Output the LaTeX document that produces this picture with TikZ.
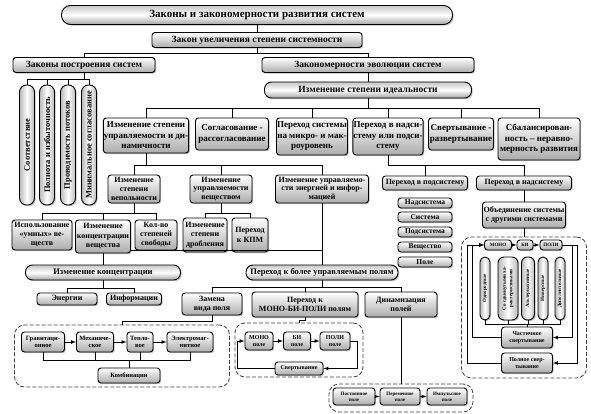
\documentclass[tikz,border=0pt]{standalone}
\usepackage{fontspec}
\setmainfont{Liberation Serif}
\usepackage{graphicx}
\usetikzlibrary{arrows,shadows}

\tikzset{
  box/.style={draw, line width=0.9pt, rounded corners=3pt, top color=white, bottom color=gray!65,
    drop shadow={shadow xshift=1.2pt, shadow yshift=-1.2pt, opacity=0.5},
    align=center, inner sep=0.5pt},
  pill/.style={box, rounded corners=#1, top color=gray!45, bottom color=gray!70, middle color=white},
  pill/.default=7pt,
  tube/.style={box, rounded corners=#1, left color=gray!55, right color=gray!55, middle color=white},
  tube/.default=5pt,
  zone/.style={draw=black!75, line width=0.8pt, rounded corners=10pt, dash pattern=on 4pt off 2pt},
  wh/.style 2 args={minimum width=#1pt, minimum height=#2pt},
  fs/.style 2 args={font=\fontsize{#1}{#2}\selectfont\bfseries},
  link/.style={line width=0.7pt},
}

\begin{document}
\begin{tikzpicture}[x=1pt, y=-1pt, >=latex]
    \useasboundingbox (0,0) rectangle (591,414);
    % Dashed zones
    \node[zone, wh={215}{62}] (zone1) at (122,356) {};
    \node[zone, wh={128}{54}] (zone2) at (299,350) {};
    \node[zone, wh={144}{28}] (zone3) at (401,398) {};
    \node[zone, wh={125}{141}] (zone4) at (524,307.5) {};
    % Upper levels
    \node[pill=9pt, wh={391}{19}, fs={11}{13}] (title) at (257,15) {Законы и закономерности развития систем};
    \node[box, wh={210}{15}, fs={9.5}{11}] (incr) at (257,40) {Закон увеличения степени системности};
    \node[box, wh={142}{15}, fs={9.5}{11}] (constr) at (84,65) {Законы построения систем};
    \node[box, wh={212}{15}, fs={9.5}{11}] (evol) at (368,65) {Закономерности эволюции систем};
    \node[pill, wh={207}{16}, fs={9.5}{11}] (ideal) at (368,90) {Изменение степени идеальности};
    % Laws of construction
    \node[tube=7pt, wh={15}{120}, fs={8.5}{9}] (law1) at (27,145) {\rotatebox{90}{Соответствие}};
    \node[tube=7pt, wh={15}{120}, fs={8.5}{9}] (law2) at (47,145) {\rotatebox{90}{Полнота и избыточность}};
    \node[tube=7pt, wh={15}{120}, fs={8.5}{9}] (law3) at (68,145) {\rotatebox{90}{Проводимость потоков}};
    \node[tube=7pt, wh={15}{120}, fs={8.5}{9}] (law4) at (89,145) {\rotatebox{90}{Минимальное согласование}};
    % Ideality branches
    \node[box, wh={85}{35}, fs={9}{10.5}] (ctrl) at (146,135.5) {Изменение степени\\управляемости и ди-\\намичности};
    \node[box, wh={73}{32}, fs={9}{10.5}] (coord) at (232,134) {Согласование -\\рассогласование};
    \node[box, wh={71}{37}, fs={9}{10.5}] (micro) at (312,136.5) {Переход системы\\на микро- и мак-\\роуровень};
    \node[box, wh={70}{37}, fs={9}{10.5}] (super) at (388,136.5) {Переход в надси-\\стему или подси-\\стему};
    \node[box, wh={65}{32}, fs={9}{10.5}] (fold) at (461,134) {Свертывание -\\развертывание};
    \node[box, wh={82}{42}, fs={9}{10.5}] (balance) at (539,139) {Сбалансирован-\\ность – неравно-\\мерность развития};
    % Controllability
    \node[box, wh={52}{28}, fs={8}{8.8}] (vepol) at (134,189) {Изменение\\степени\\вепольности};
    \node[box, wh={62}{28}, fs={8}{8.8}] (subst) at (221,189) {Изменение\\управляемости\\веществом};
    \node[box, wh={93}{28}, fs={8}{8.8}] (energy) at (322,189) {Изменение управляемо-\\сти энергией и инфор-\\мацией};
    \node[box, wh={60}{30}, fs={8}{9}] (smart) at (42,235) {Использование\\«умных» ве-\\ществ};
    \node[box, wh={55}{33}, fs={8}{9.5}] (conc) at (103,236.5) {Изменение\\концентрации\\вещества};
    \node[box, wh={42}{30}, fs={8}{9}] (freedom) at (156,235) {Кол-во\\степеней\\свободы};
    \node[box, wh={44}{34}, fs={8}{9.5}] (split) at (205,235) {Изменение\\степени\\дробления};
    \node[box, wh={36}{34}, fs={8}{9.5}] (kpm) at (250,235) {Переход\\к КПМ};
    \node[pill, wh={155}{15}, fs={8.5}{10}] (concen) at (103,272.5) {Изменение концентрации};
    \node[box, wh={60}{12}, fs={8}{9}] (ener) at (67,299) {Энергии};
    \node[box, wh={55}{12}, fs={8}{9}] (info) at (134,299) {Информации};
    \node[pill, wh={152}{15}, fs={8.5}{10}] (fields) at (322,272.5) {Переход к более управляемым полям};
    \node[box, wh={60}{22}, fs={8}{9.5}] (replace) at (212,304) {Замена\\вида поля};
    \node[box, wh={106}{25}, fs={8}{9.5}] (mbp) at (305,304.5) {Переход к\\МОНО-БИ-ПОЛИ полям};
    \node[box, wh={72}{25}, fs={8}{9.5}] (dyn) at (401,304.5) {Динамизация\\полей};
    % Field types
    \node[box, wh={43}{20}, fs={6.5}{7.5}] (grav) at (43,342) {Гравитаци-\\онное};
    \node[box, wh={37}{20}, fs={6.5}{7.5}] (mech) at (95,342) {Механиче-\\ское};
    \node[box, wh={26}{20}, fs={6.5}{7.5}] (heat) at (140,342) {Тепло-\\вое};
    \node[box, wh={46}{20}, fs={6.5}{7.5}] (emag) at (190,342) {Электромаг-\\нитное};
    \node[box, wh={62}{15}, fs={6.5}{7.5}] (comb) at (129,375.5) {Комбинации};
    \node[box, wh={28}{18}, fs={6}{7}] (mono) at (259,341) {МОНО\\поле};
    \node[box, wh={27}{18}, fs={6}{7}] (bi) at (297,341) {БИ\\поле};
    \node[box, wh={30}{18}, fs={6}{7}] (poly) at (335,341) {ПОЛИ\\поле};
    \node[box, wh={48}{13}, fs={6}{7}] (conv) at (299,368.5) {Свертывание};
    \node[box, wh={42}{17}, fs={5}{6}] (const) at (354,396.5) {Постоянное\\поле};
    \node[box, wh={40}{17}, fs={5}{6}] (var) at (400,396.5) {Переменное\\поле};
    \node[box, wh={40}{17}, fs={5}{6}] (pulse) at (447,396.5) {Импульсное\\поле};
    % Sub- and supersystem
    \node[box, wh={85}{14}, fs={8}{9}] (tosub) at (425,183) {Переход в подсистему};
    \node[box, wh={95}{14}, fs={8}{9}] (tosup) at (524,183) {Переход в надсистему};
    \node[box, wh={54}{10}, fs={7.5}{8}] (lvl1) at (425,203) {Надсистема};
    \node[box, wh={54}{10}, fs={7.5}{8}] (lvl2) at (425,217) {Система};
    \node[box, wh={54}{10}, fs={7.5}{8}] (lvl3) at (425,232) {Подсистема};
    \node[box, wh={54}{10}, fs={7.5}{8}] (lvl4) at (425,247) {Вещество};
    \node[box, wh={54}{10}, fs={7.5}{8}] (lvl5) at (425,262) {Поле};
    \node[box, wh={83}{26}, fs={8}{9.5}] (unite) at (524,215) {Объединение системы\\с другими системами};
    \node[box, wh={27}{10}, fs={5}{6}] (smono) at (498,245) {МОНО};
    \node[box, wh={16}{10}, fs={5}{6}] (sbi) at (525,245) {БИ};
    \node[box, wh={22}{10}, fs={5}{6}] (spoly) at (551,245) {ПОЛИ};
    \node[tube=5pt, wh={10}{63}, fs={5}{6}] (kind1) at (485,288.5) {\rotatebox{90}{Однородные}};
    \node[tube=6pt, wh={20}{63}, fs={5}{6}] (kind2) at (508,288.5) {\rotatebox{90}{\shortstack{Со сдвинутыми ха-\\рактеристиками}}};
    \node[tube=6pt, wh={13}{63}, fs={5}{6}] (kind3) at (528,288.5) {\rotatebox{90}{Альтернативные}};
    \node[tube=5pt, wh={10}{63}, fs={5}{6}] (kind4) at (543,288.5) {\rotatebox{90}{Инверсные}};
    \node[tube=5pt, wh={10}{63}, fs={5}{6}] (kind5) at (560,288.5) {\rotatebox{90}{Дополнительные}};
    \node[box, wh={51}{21}, fs={6}{7}] (part) at (527,337.5) {Частичное\\свертывание};
    \node[box, wh={51}{20}, fs={6}{7}] (full) at (527,363) {Полное свер-\\тывание};
    % Connectors of the upper levels
    \draw[link] (title) -- (incr);
    \draw[link] (incr.south) -- ++(0,5) -| (constr.north);
    \draw[link] (incr.south) -- ++(0,5) -| (evol.north);
    \draw[link] (evol) -- (ideal);
    \draw[link] (constr.south) -- ++(0,6) -| (law1.north);
    \draw[link] (constr.south) -- ++(0,6) -| (law2.north);
    \draw[link] (constr.south) -- ++(0,6) -| (law3.north);
    \draw[link] (constr.south) -- ++(0,6) -| (law4.north);
    \draw[link] (ideal.south) -- ++(0,10) -| (ctrl.north);
    \draw[link] (ideal.south) -- ++(0,10) -| (coord.north);
    \draw[link] (ideal.south) -- ++(0,10) -| (micro.north);
    \draw[link] (ideal.south) -- ++(0,10) -| (super.north);
    \draw[link] (ideal.south) -- ++(0,10) -| (fold.north);
    \draw[link] (ideal.south) -- ++(0,10) -| (balance.north);
    % Connectors of the controllability branch
    \draw[link] (ctrl.south) -- ++(0,12) -| (vepol.north);
    \draw[link] (ctrl.south) -- ++(0,12) -| (subst.north);
    \draw[link] (ctrl.south) -- ++(0,12) -| (energy.north);
    \draw[link] (vepol.south) -- ++(0,10) -| (smart.north);
    \draw[link] (vepol.south) -- ++(0,10) -| (conc.north);
    \draw[link] (vepol.south) -- ++(0,10) -| (freedom.north);
    \draw[link] (subst.south) -- ++(0,10) -| (split.north);
    \draw[link] (subst.south) -- ++(0,10) -| (kpm.north);
    \coordinate (concj) at ([yshift=3pt]conc.south east);
    \draw[link] (concj) -- (concj -| energy.south);
    \draw[link] (conc) -- (concen);
    \draw[link] (concen.south) -- ++(0,8) -| (ener.north);
    \draw[link] (concen.south) -- ++(0,8) -| (info.north);
    \draw[link] (energy) -- (fields);
    \draw[link] (fields.south) -- ++(0,7) -| (replace.north);
    \draw[link] (fields.south) -- ++(0,7) -| (mbp.north);
    \draw[link] (fields.south) -- ++(0,7) -| (dyn.north);
    % Connectors of the field zones
    \draw[link] (replace.south) -- ++(0,6) -| (zone1.north);
    \draw[link,->] (grav) -- (mech);
    \draw[link,->] (mech) -- (heat);
    \draw[link,->] (heat) -- (emag);
    \draw[link] (grav.south) -- ++(0,8) -| (comb.north);
    \draw[link] (mech.south) -- ++(0,8) -| (comb.north);
    \draw[link] (heat.south) -- ++(0,8) -| (comb.north);
    \draw[link] (emag.south) -- ++(0,8) -| (comb.north);
    \draw[link] (mbp.south) -- ++(0,3) -| (zone2.north);
    \draw[link,->] (mono) -- (bi);
    \draw[link,->] (bi) -- (poly);
    \draw[link,->] (poly.east) -- ([xshift=7pt]poly.east) |- (conv.east);
    \draw[link,->] (conv.west) -| ([xshift=-7pt]mono.west) -- (mono.west);
    \draw[link] (dyn) -- (zone3);
    \draw[link,->] (const) -- (var);
    \draw[link,->] (var) -- (pulse);
    % Connectors of the sub- and supersystem branch
    \draw[link] (super.south) -- ++(0,10) -| (tosub.north);
    \draw[link] (super.south) -- ++(0,10) -| (tosup.north);
    \draw[link] (tosup) -- (unite);
    \draw[link] (unite) -- (zone4);
    \draw[link,->] (smono) -- (sbi);
    \draw[link,->] (sbi) -- (spoly);
    \draw[link] (kind1.south) -- ++(0,3.5) -| (part.north);
    \draw[link] (kind2.south) -- ++(0,3.5) -| (part.north);
    \draw[link] (kind3.south) -- ++(0,3.5) -| (part.north);
    \draw[link] (kind4.south) -- ++(0,3.5) -| (part.north);
    \draw[link] (kind5.south) -- ++(0,3.5) -| (part.north);
    \draw[link,->] (part.west) -| ([xshift=-12pt]smono.west) -- (smono.west);
    \draw[link,->] (full.west) -| ([xshift=-17pt]smono.west) -- (smono.west);
    \draw[link,->] (spoly.east) -- ([xshift=10pt]spoly.east) |- (part.east);
    \draw[link,->] (spoly.east) -- ([xshift=15pt]spoly.east) |- (full.east);
\end{tikzpicture}
\end{document}
